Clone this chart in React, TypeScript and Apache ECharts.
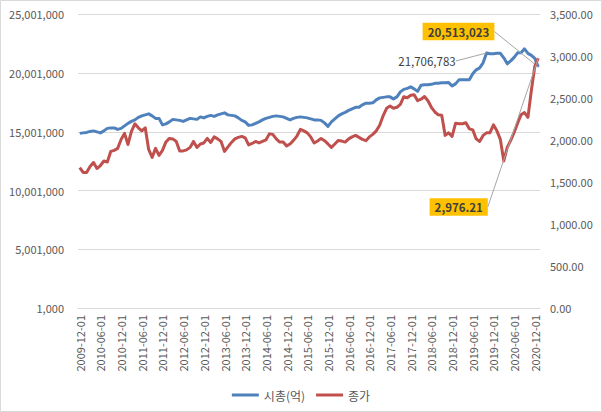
import React, { useEffect, useRef } from 'react';
import * as echarts from 'echarts';

// 2009-12-01 .. 2021-01-01, monthly
const categories: string[] = (() => {
  const out: string[] = [];
  let y = 2009;
  let m = 12;
  for (let i = 0; i < 134; i++) {
    out.push(`${y}-${String(m).padStart(2, '0')}-01`);
    m += 1;
    if (m > 12) { m = 1; y += 1; }
  }
  return out;
})();

// 시총(억) — left axis
const marketCap: number[] = [
  14864000, 14907000, 14949000, 15034000, 15077000, 14992000, 14907000, 15077000, 15290000, 15333000,
  15333000, 15205000, 15290000, 15503000, 15716000, 15886000, 16014000, 16227000, 16355000, 16440000,
  16525000, 16355000, 16142000, 16142000, 15588000, 15673000, 15844000, 16056000, 16014000, 15971000,
  15886000, 16014000, 16142000, 16099000, 16056000, 16269000, 16184000, 16312000, 16397000, 16312000,
  16440000, 16525000, 16610000, 16440000, 16397000, 16355000, 16184000, 15971000, 15844000, 15545000,
  15588000, 15716000, 15844000, 16014000, 16142000, 16227000, 16312000, 16355000, 16312000, 16269000,
  16142000, 16014000, 16142000, 16227000, 16269000, 16227000, 16184000, 16099000, 16014000, 16014000,
  15971000, 15758000, 15460000, 15844000, 16099000, 16355000, 16525000, 16653000, 16823000, 16951000,
  17079000, 17096000, 17292000, 17436000, 17436000, 17462000, 17717000, 17888000, 17930000, 17973000,
  17973000, 17803000, 17973000, 18399000, 18612000, 18697000, 18825000, 18654000, 18441000, 18953000,
  18995000, 18995000, 19038000, 19123000, 19140000, 19166000, 19166000, 19191000, 18910000, 19080000,
  19421000, 19421000, 19421000, 19421000, 19932000, 20273000, 20443000, 20869000, 21706783, 21636000,
  21636000, 21678000, 21678000, 21295000, 20784000, 21039000, 21338000, 21721000, 21721000, 22062000,
  21678000, 21508000, 21252000, 20513023,
];

// 종가 — right axis
const closePrice: number[] = [
  1674, 1615, 1615, 1686, 1734, 1662, 1698, 1752, 1740, 1866,
  1878, 1902, 2009, 2081, 1949, 2105, 2195, 2147, 2111, 2147,
  1890, 1794, 1902, 1818, 1878, 1979, 2021, 2015, 1985, 1872,
  1872, 1884, 1914, 1985, 1914, 1955, 1967, 2021, 1973, 2039,
  2015, 1985, 1866, 1920, 1973, 2015, 2033, 2045, 2027, 1944,
  1961, 1985, 1967, 1985, 2003, 2075, 2069, 2015, 1977, 1977,
  1932, 1955, 1997, 2049, 2129, 2111, 2087, 2039, 1967, 1991,
  2021, 1994, 1955, 1914, 1955, 1997, 1989, 1977, 2015, 2039,
  2057, 2033, 2009, 1994, 2039, 2069, 2111, 2177, 2290, 2380,
  2407, 2380, 2392, 2428, 2518, 2506, 2536, 2542, 2470, 2488,
  2520, 2470, 2392, 2336, 2302, 2296, 2057, 2089, 2045, 2201,
  2195, 2195, 2207, 2135, 2123, 2015, 1985, 2057, 2087, 2089,
  2183, 2111, 2009, 1752, 1914, 1997, 2093, 2201, 2302, 2329,
  2272, 2595, 2882, 2976.21,
];

const seriesNames = ['시총(억)', '종가'];
const peakLabelIndex = 118;

export default function App() {
  const ref = useRef<HTMLDivElement>(null);

  useEffect(() => {
    document.body.style.margin = '0';
    const chart = echarts.init(ref.current as HTMLDivElement, null, { renderer: 'svg' });
    const font = "'Noto Sans CJK KR', 'Noto Sans', sans-serif";
    const grey = '#595959';
    const fmtInt = (v: number) => Math.round(v).toLocaleString('en-US');
    const fmt2 = (v: number) =>
      v.toLocaleString('en-US', { minimumFractionDigits: 2, maximumFractionDigits: 2 });
    const last = categories.length - 1;

    const boxLabel = (text: string) => ({
      show: true,
      formatter: text,
      backgroundColor: '#FFC000',
      color: '#404040',
      fontWeight: 'bold',
      fontSize: 11.5,
      fontFamily: font,
      padding: [3, 5, 3, 5],
    });

    const blueData = marketCap.map((v, i) => {
      if (i === last) return { value: v, label: boxLabel(fmtInt(v)) };
      if (i === peakLabelIndex)
        return {
          value: v,
          label: { show: true, formatter: fmtInt(v), color: '#404040', fontSize: 11.5, fontFamily: font },
        };
      return v;
    });
    const redData = closePrice.map((v, i) =>
      i === last ? { value: v, label: boxLabel(fmt2(v)) } : v
    );

    chart.setOption({
      animation: false,
      textStyle: { fontFamily: font },
      graphic: [
        {
          type: 'rect',
          shape: { x: 0.5, y: 0.5, width: 601, height: 411 },
          style: { fill: 'none', stroke: '#D9D9D9', lineWidth: 1 },
          silent: true,
          z: -10,
        },
      ],
      grid: { left: 78, right: 62, top: 14.3, bottom: 104, containLabel: false },
      legend: {
        data: seriesNames,
        left: 'center',
        top: 384,
        icon: 'rect',
        itemWidth: 27,
        itemHeight: 3,
        itemGap: 11,
        textStyle: { color: grey, fontSize: 12, fontFamily: font },
      },
      xAxis: {
        type: 'category',
        data: categories,
        boundaryGap: true,
        axisLine: { lineStyle: { color: '#D9D9D9' } },
        axisTick: { interval: 5, length: 5, lineStyle: { color: '#BFBFBF' } },
        axisLabel: { interval: 5, rotate: 90, color: grey, fontSize: 11, margin: 7, fontFamily: font },
      },
      yAxis: [
        {
          type: 'value',
          min: 1000,
          max: 25001000,
          interval: 5000000,
          axisLine: { show: false },
          axisTick: { show: false },
          splitLine: { lineStyle: { color: '#D9D9D9' } },
          axisLabel: { formatter: fmtInt, color: grey, fontSize: 11, margin: 14, fontFamily: font },
        },
        {
          type: 'value',
          min: 0,
          max: 3500,
          interval: 500,
          position: 'right',
          axisLine: { show: false },
          axisTick: { show: false },
          splitLine: { show: false },
          axisLabel: { formatter: fmt2, color: grey, fontSize: 11, margin: 10, fontFamily: font },
        },
      ],
      series: [
        {
          name: seriesNames[0],
          type: 'line',
          yAxisIndex: 0,
          data: blueData,
          showSymbol: true,
          symbol: 'circle',
          symbolSize: 0.01,
          lineStyle: { width: 3, color: '#4F81BD', join: 'round' },
          itemStyle: { color: '#4F81BD' },
          label: { show: false },
          labelLine: { show: true, lineStyle: { color: '#A6A6A6', width: 1 } },
          labelLayout: (p: any) => {
            if (p.dataIndex === last) return { x: 458.5, y: 31.5, align: 'center', verticalAlign: 'middle' };
            if (p.dataIndex === peakLabelIndex) return { x: 427, y: 61, align: 'center', verticalAlign: 'middle' };
            return {};
          },
          z: 2,
        },
        {
          name: seriesNames[1],
          type: 'line',
          yAxisIndex: 1,
          data: redData,
          showSymbol: true,
          symbol: 'circle',
          symbolSize: 0.01,
          lineStyle: { width: 3, color: '#C0504D', join: 'round' },
          itemStyle: { color: '#C0504D' },
          label: { show: false },
          labelLine: { show: true, lineStyle: { color: '#A6A6A6', width: 1 } },
          labelLayout: (p: any) => {
            if (p.dataIndex === last) return { x: 458.7, y: 207, align: 'center', verticalAlign: 'middle' };
            return {};
          },
          z: 3,
        },
      ],
    });

    return () => chart.dispose();
  }, []);

  return (
    <div
      ref={ref}
      style={{ position: 'absolute', left: 0, top: 0, width: 602, height: 412, background: '#fff' }}
    />
  );
}
